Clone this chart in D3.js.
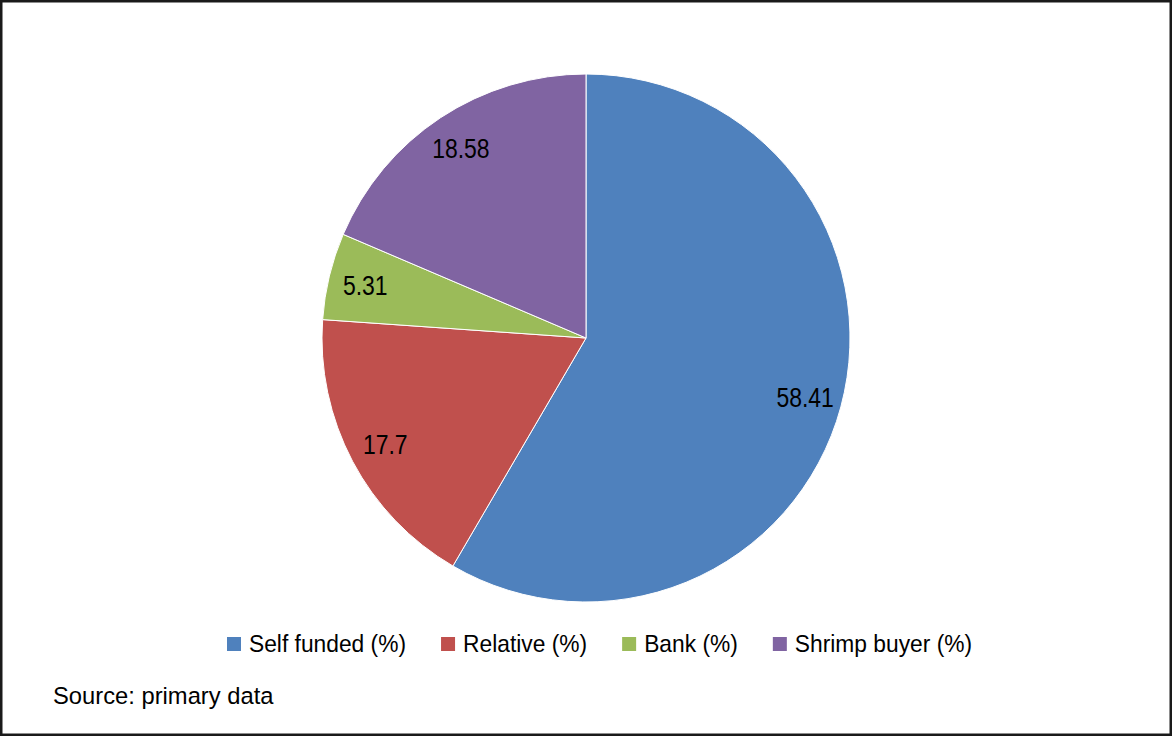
<!DOCTYPE html>
<html>
<head>
<meta charset="utf-8">
<script src="https://cdn.jsdelivr.net/npm/d3@7"></script>
<style>
  html, body { margin: 0; padding: 0; background: #fff; }
  svg text { font-family: "Liberation Sans", Arial, sans-serif; fill: #000; }
</style>
</head>
<body>
<svg id="chart" width="1172" height="736"></svg>
<script>
// Source of funds for shrimp farmers (%)
const categories = ["Self funded (%)", "Relative (%)", "Bank (%)", "Shrimp buyer (%)"];
const values = [58.41, 17.7, 5.31, 18.58];
const colors = ["#4F81BD", "#C0504D", "#9BBB59", "#8064A2"];
const sourceNote = "Source: primary data";

const svg = d3.select("#chart");
const W = 1172, H = 736;

// frame
svg.append("rect")
  .attr("x", 1.25).attr("y", 1.25).attr("width", W - 2.5).attr("height", H - 2.5)
  .attr("fill", "#fff").attr("stroke", "#1a1a1a").attr("stroke-width", 2.5);

const cx = 586, cy = 338, r = 264;
const color = d3.scaleOrdinal().domain(categories).range(colors);

const pie = d3.pie().sort(null).value(d => d.value);
const data = categories.map((c, i) => ({ name: c, value: values[i] }));
const arcs = pie(data);
const arc = d3.arc().innerRadius(0).outerRadius(r);
const labelArc = d3.arc().innerRadius(r * 0.86).outerRadius(r * 0.86);

const g = svg.append("g").attr("transform", `translate(${cx},${cy})`);

g.selectAll("path.slice")
  .data(arcs)
  .join("path")
  .attr("class", "slice")
  .attr("d", arc)
  .attr("fill", d => color(d.data.name))
  .attr("stroke", "#fff")
  .attr("stroke-width", 1);

// condensed value labels
g.selectAll("text.val")
  .data(arcs)
  .join("text")
  .attr("class", "val")
  .attr("transform", d => `translate(${labelArc.centroid(d)}) scale(0.82,1)`)
  .attr("text-anchor", "middle")
  .attr("dominant-baseline", "central")
  .attr("font-size", 28)
  .text(d => d.value);

// legend, laid out left to right from measured text widths
const legendScale = 0.95;
const legend = svg.append("g").attr("transform", "translate(227,644)");
let xPos = 0;
categories.forEach(c => {
  const item = legend.append("g").attr("transform", `translate(${xPos},0)`);
  item.append("rect")
    .attr("x", 0).attr("y", -7).attr("width", 14).attr("height", 14)
    .attr("fill", color(c));
  const t = item.append("text")
    .attr("transform", `translate(22,0) scale(${legendScale},1)`)
    .attr("dominant-baseline", "central")
    .attr("font-size", 24)
    .text(c);
  xPos += 22 + t.node().getComputedTextLength() * legendScale + 35;
});

svg.append("text")
  .attr("transform", "translate(53,695.5) scale(0.97,1)")
  .attr("dominant-baseline", "central")
  .attr("font-size", 24.5)
  .text(sourceNote);
</script>
</body>
</html>
